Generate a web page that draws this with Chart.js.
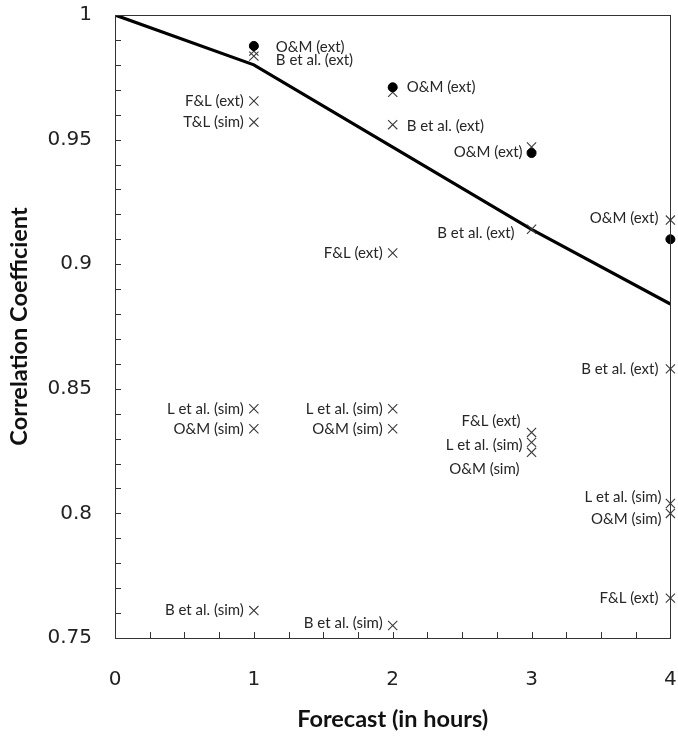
<!DOCTYPE html>
<html><head><meta charset="utf-8">
<script src="https://cdn.jsdelivr.net/npm/chart.js@4/dist/chart.umd.min.js"></script>
<style>html,body{margin:0;padding:0;background:#fff}</style>
</head><body>
<canvas id="c" width="678" height="740"></canvas>
<script>
// ---- data ----
const hours = [0, 1, 2, 3, 4];
const boundLine = [1, 0.98, 0.947, 0.914, 0.884];
const omExtDots = [null, 0.9876, 0.971, 0.9446, 0.910];
const omExt  = [null, 0.9855, 0.969, 0.947, 0.9177];
const bExt   = [null, 0.9835, 0.956, 0.914, 0.858];
const flExt  = [null, 0.9655, 0.9045, 0.8325, 0.766];
const tlSim  = [null, 0.957, null, null, null];
const lSim   = [null, 0.842, 0.842, 0.8285, 0.804];
const omSim  = [null, 0.834, 0.834, 0.8245, 0.800];
const bSim   = [null, 0.761, 0.755, null, null];
const seriesNames = ['O&M (ext)', 'B et al. (ext)', 'F&L (ext)', 'T&L (sim)', 'L et al. (sim)', 'O&M (sim)', 'B et al. (sim)'];
const seriesValues = [omExt, bExt, flExt, tlSim, lSim, omSim, bSim];
const xTickValues = [0, 1, 2, 3, 4];
const yTickValues = [0.75, 0.8, 0.85, 0.9, 0.95, 1];

// ---- label placement (style): [side, gap px, vertical shift px] ----
const labelPlacement = [
  [null, ['r',22,-4], ['r',14,-5], ['l',9,5],  ['l',12,-2]],
  [null, ['r',22,4],  ['r',14,2],  ['l',17,4], ['l',12,0]],
  [null, ['l',10,0],  ['l',10,0],  ['l',11,-11], ['l',12,0]],
  [null, ['l',10,0],  null, null, null],
  [null, ['l',10,0],  ['l',10,0],  ['l',9,3],  ['l',9,-6]],
  [null, ['l',10,0],  ['l',10,0],  ['l',12,17], ['l',9,6]],
  [null, ['l',10,0],  ['l',10,-2], null, null]
];

const toXY = arr => hours.map((h, i) => arr[i] == null ? null : {x: h, y: arr[i]}).filter(p => p);

const datasets = [
  {type:'line', label:'bound', data: toXY(boundLine), borderColor:'#000', borderWidth:3.2,
   pointRadius:0, fill:false, tension:0, order:10},
  {type:'scatter', label:'O&M (ext) dots', data: toXY(omExtDots), pointStyle:'circle', pointRadius:4.5,
   backgroundColor:'#000', borderColor:'#000', borderWidth:1, order:0, clip:false}
];
seriesValues.forEach((vals, k) => {
  datasets.push({type:'scatter', label: seriesNames[k], data: toXY(vals), pointStyle:'crossRot',
    pointRadius:6.5, borderColor:'#3a3a3a', backgroundColor:'#3a3a3a', borderWidth:1.1,
    order:1, seriesIndex:k, clip:false});
});

const LABEL_FONT = '15px Lato, "Open Sans", sans-serif';

const decorations = {
  id:'decorations',
  afterDatasetsDraw(chart) {
    const ctx = chart.ctx;
    ctx.save();
    ctx.font = LABEL_FONT;
    ctx.fillStyle = '#262626';
    ctx.textBaseline = 'middle';
    chart.data.datasets.forEach((ds, di) => {
      if (ds.seriesIndex === undefined) return;
      const meta = chart.getDatasetMeta(di);
      const vals = seriesValues[ds.seriesIndex];
      let j = 0;
      hours.forEach((h, i) => {
        if (vals[i] == null) return;
        const el = meta.data[j++];
        const pl = labelPlacement[ds.seriesIndex][i];
        if (!pl) return;
        const [side, gap, dy] = pl;
        ctx.textAlign = side === 'r' ? 'left' : 'right';
        const x = side === 'r' ? el.x + gap : el.x - gap;
        ctx.fillText(ds.label, x, el.y + dy);
      });
    });
    ctx.restore();
  },
  afterDraw(chart) {
    const {ctx, chartArea:a, scales:{x, y}} = chart;
    ctx.save();
    ctx.strokeStyle = '#333';
    ctx.lineWidth = 1;
    ctx.strokeRect(Math.round(a.left)+0.5, Math.round(a.top)+0.5,
                   Math.round(a.right-a.left), Math.round(a.bottom-a.top));
    ctx.beginPath();
    for (let i = 75; i <= 100; i++) {
      const py = Math.round(y.getPixelForValue(i/100)) + 0.5;
      ctx.moveTo(a.left, py); ctx.lineTo(a.left + 6, py);
    }
    for (let i = 0; i <= 16; i++) {
      const px = Math.round(x.getPixelForValue(i/4)) + 0.5;
      ctx.moveTo(px, a.bottom); ctx.lineTo(px, a.bottom - 6);
    }
    ctx.stroke();
    ctx.restore();
  }
};

function zeroPad(s) { s.paddingLeft = 0; s.paddingRight = 0; s.paddingTop = 0; s.paddingBottom = 0; }

new Chart(document.getElementById('c'), {
  data: {datasets},
  options: {
    responsive:false, animation:false,
    layout:{padding:{top:15, right:5, left:0, bottom:0}},
    plugins:{legend:{display:false}, tooltip:{enabled:false}},
    scales:{
      x:{type:'linear', min:0, max:4,
        afterBuildTicks(s){ s.ticks = xTickValues.map(v => ({value:v})); },
        ticks:{padding:30, color:'#222', font:{family:'"DejaVu Sans"', size:20}},
        grid:{display:false, drawTicks:false}, border:{display:false},
        title:{display:true, text:'Forecast (in hours)', color:'#111',
          font:{family:'Lato, "Open Sans", sans-serif', weight:'bold', size:23.5}, padding:{top:0, bottom:6}},
        afterFit(s){ s.height = 102; zeroPad(s); }
      },
      y:{type:'linear', min:0.75, max:1,
        afterBuildTicks(s){ s.ticks = yTickValues.map(v => ({value:v})); },
        ticks:{padding:23, color:'#222', font:{family:'"DejaVu Sans"', size:20},
          callback:v => String(Math.round(v*100)/100)},
        grid:{display:false, drawTicks:false}, border:{display:false},
        title:{display:true, text:'Correlation Coefficient', color:'#111',
          font:{family:'Lato, "Open Sans", sans-serif', weight:'bold', size:23.5}, padding:{top:5, bottom:0}},
        afterFit(s){ s.width = 115; zeroPad(s); }
      }
    }
  },
  plugins:[decorations]
});
</script>
</body></html>
